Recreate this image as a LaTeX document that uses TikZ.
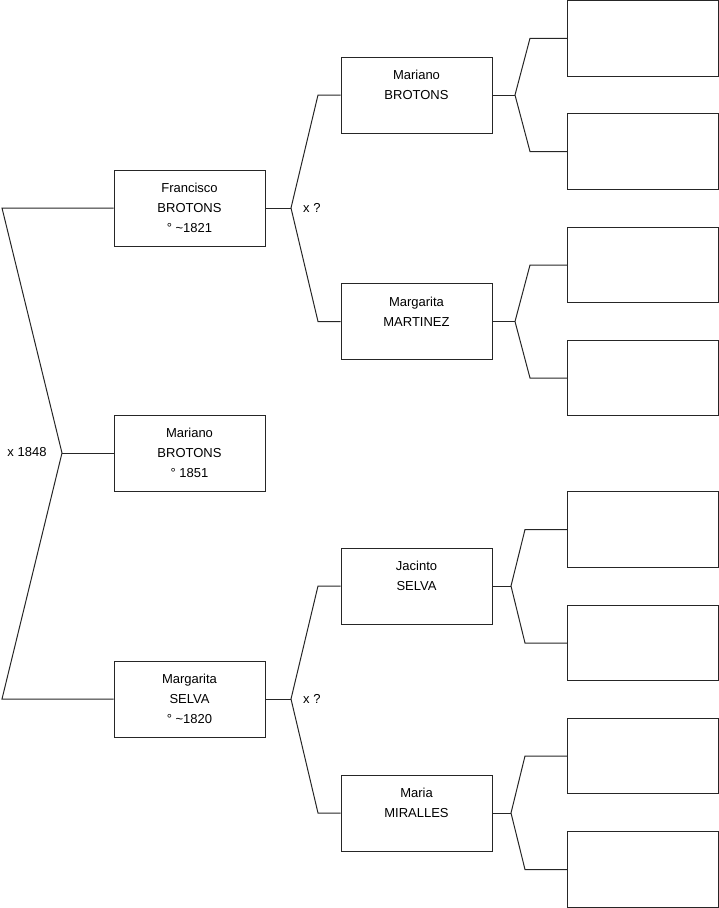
\documentclass[tikz,border=0pt]{standalone}
\usepackage{fontspec}
\setmainfont{Liberation Sans}
\begin{document}
\begin{tikzpicture}[x=1pt,y=-1pt,
  person/.style={draw=black!85,line width=1pt,minimum width=151pt,minimum height=76pt,inner sep=0pt,align=center,font=\fontsize{13}{20}\selectfont},
  emptybox/.style={draw=black!85,line width=1pt,minimum width=151pt,minimum height=75.5pt,inner sep=0pt},
  link/.style={draw=black!85,line width=1pt},
  tag/.style={font=\fontsize{13}{16}\selectfont,inner sep=0pt}]
\useasboundingbox (0,0) rectangle (719,908);
% generation 1
\node[person] (fb) at (189.5,208) {Francisco\\BROTONS\\° \textasciitilde1821};
\node[person] (mc) at (189.5,453) {Mariano\\BROTONS\\° 1851};
\node[person] (ms) at (189.5,699) {Margarita\\SELVA\\° \textasciitilde1820};
% generation 2
\node[person] (mb) at (416.5,95) {Mariano\\BROTONS\\\vphantom{1}};
\node[person] (mm) at (416.5,321.5) {Margarita\\MARTINEZ\\\vphantom{1}};
\node[person] (js) at (416.5,586) {Jacinto\\SELVA\\\vphantom{1}};
\node[person] (mr) at (416.5,813) {Maria\\MIRALLES\\\vphantom{1}};
% generation 3 (empty)
\node[emptybox] (e1) at (642.75,38.25) {};
\node[emptybox] (e2) at (642.75,151.5) {};
\node[emptybox] (e3) at (642.75,265) {};
\node[emptybox] (e4) at (642.75,378) {};
\node[emptybox] (e5) at (642.75,529.5) {};
\node[emptybox] (e6) at (642.75,643) {};
\node[emptybox] (e7) at (642.75,756) {};
\node[emptybox] (e8) at (642.75,869.5) {};
% left bracket
\coordinate (l1) at (2,208);
\coordinate (v0) at (62,453);
\coordinate (l2) at (2,699);
\draw[link] (fb.west) -- (l1) -- (v0) -- (l2) -- (ms.west);
\draw[link] (v0) -- (mc.west);
\node[tag] (m0) at (27,452) {x 1848};
% gen1 -> gen2
\coordinate (v1) at (291,208);
\coordinate (a1) at (318,95);
\coordinate (b1) at (318,321.5);
\draw[link] (fb.east) -- (v1);
\draw[link] (mb.west) -- (a1) -- (v1) -- (b1) -- (mm.west);
\node[tag,anchor=west] (m1) at (303,208) {x ?};
\coordinate (v2) at (291,699);
\coordinate (a2) at (318,586);
\coordinate (b2) at (318,813);
\draw[link] (ms.east) -- (v2);
\draw[link] (js.west) -- (a2) -- (v2) -- (b2) -- (mr.west);
\node[tag,anchor=west] (m2) at (303,699) {x ?};
% gen2 -> gen3
\coordinate (v3) at (515,95);
\coordinate (a3) at (530,38.25);
\coordinate (b3) at (530,151.5);
\draw[link] (mb.east) -- (v3);
\draw[link] (e1.west) -- (a3) -- (v3) -- (b3) -- (e2.west);
\coordinate (v4) at (515,321.5);
\coordinate (a4) at (530,265);
\coordinate (b4) at (530,378);
\draw[link] (mm.east) -- (v4);
\draw[link] (e3.west) -- (a4) -- (v4) -- (b4) -- (e4.west);
\coordinate (v5) at (511,586);
\coordinate (a5) at (525,529.5);
\coordinate (b5) at (525,643);
\draw[link] (js.east) -- (v5);
\draw[link] (e5.west) -- (a5) -- (v5) -- (b5) -- (e6.west);
\coordinate (v6) at (511,813);
\coordinate (a6) at (525,756);
\coordinate (b6) at (525,869.5);
\draw[link] (mr.east) -- (v6);
\draw[link] (e7.west) -- (a6) -- (v6) -- (b6) -- (e8.west);
\end{tikzpicture}
\end{document}
